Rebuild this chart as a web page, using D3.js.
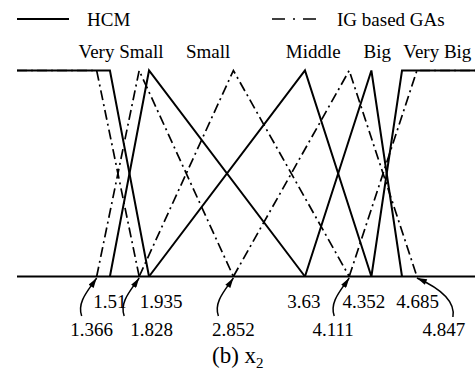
<!DOCTYPE html>
<html>
<head>
<meta charset="utf-8">
<title>Membership functions x2</title>
<script src="https://cdn.jsdelivr.net/npm/d3@7"></script>
<style>
	body { margin: 0; background: #fff; }
	text { font-family: 'Liberation Serif', 'DejaVu Serif', serif; fill: #000; }
	.hcm { fill: none; stroke: #000; stroke-width: 2; }
	.ig  { fill: none; stroke: #000; stroke-width: 1.7; stroke-dasharray: 10,4,2,4; }
</style>
</head>
<body>
<div id="chart"></div>
<script>
var width = 475, height = 378;

// data
var categories = ["Very Small", "Small", "Middle", "Big", "Very Big"];
var hcmCenters = [1.51, 1.935, 3.63, 4.352, 4.685];
var igCenters  = [1.366, 1.828, 2.852, 4.111, 4.847];
var seriesNames = ["HCM", "IG based GAs"];
var xRange = [0.5, 5.5];

// layout (where category names sit, in x units) and label offsets in px
var catLabelAt = [1.631, 2.578, 3.72, 4.416, 5.069];
var topDx = [0, 12, -1, -7.5, 15.5];   // hcm value labels
var botDx = [-5, 12.5, 0, -16, 27];    // ig value labels
var serif = "'Liberation Serif', 'DejaVu Serif', serif";

var x = d3.scaleLinear().domain(xRange).range([17, 477]);
var y = d3.scaleLinear().domain([0, 1]).range([276.5, 70.5]);

var svg = d3.select("#chart").append("svg")
	.attr("width", width).attr("height", height)
	.attr("font-family", serif);

// triangle / shoulder shapes from the centres
function shapes(c) {
	var out = [];
	for (var i = 0; i < c.length; i++) {
		if (i == 0) out.push([[xRange[0], 1], [c[0], 1], [c[1], 0]]);
		else if (i == c.length - 1) out.push([[c[i - 1], 0], [c[i], 1], [xRange[1], 1]]);
		else out.push([[c[i - 1], 0], [c[i], 1], [c[i + 1], 0]]);
	}
	return out;
}

var line = d3.line().x(function(d) { return x(d[0]); }).y(function(d) { return y(d[1]); });

// axis line
svg.append("line")
	.attr("x1", x(xRange[0])).attr("x2", width)
	.attr("y1", y(0)).attr("y2", y(0))
	.attr("stroke", "#000").attr("stroke-width", 2);

svg.selectAll("path.ig").data(shapes(igCenters)).enter()
	.append("path").attr("class", "ig").attr("d", line);
svg.selectAll("path.hcm").data(shapes(hcmCenters)).enter()
	.append("path").attr("class", "hcm").attr("d", line);

// legend
svg.append("line").attr("class", "hcm").attr("x1", 17).attr("x2", 69).attr("y1", 19).attr("y2", 19);
svg.append("text").attr("x", 87).attr("y", 26).attr("font-size", 19).text(seriesNames[0]);
svg.append("line").attr("class", "ig").attr("x1", 272).attr("x2", 318).attr("y1", 19).attr("y2", 19)
	.style("stroke-dasharray", "13,8,2,8");
svg.append("text").attr("x", 337).attr("y", 26).attr("font-size", 19).text(seriesNames[1]);

// category names
svg.selectAll("text.cat").data(categories).enter()
	.append("text").attr("class", "cat")
	.attr("x", function(d, i) { return x(catLabelAt[i]); })
	.attr("y", 58).attr("font-size", 19).attr("text-anchor", "middle")
	.text(function(d) { return d; });

// values
svg.selectAll("text.hv").data(hcmCenters).enter()
	.append("text").attr("class", "hv")
	.attr("x", function(d, i) { return x(d) + topDx[i]; })
	.attr("y", 308).attr("font-size", 19).attr("text-anchor", "middle")
	.text(function(d) { return d; });

svg.selectAll("text.iv").data(igCenters).enter()
	.append("text").attr("class", "iv")
	.attr("x", function(d, i) { return x(d) + botDx[i]; })
	.attr("y", 335.5).attr("font-size", 19).attr("text-anchor", "middle")
	.text(function(d) { return d; });

// arrows pointing at the IG values
svg.append("defs").append("marker")
	.attr("id", "head").attr("markerUnits", "userSpaceOnUse")
	.attr("viewBox", "0 0 10 6").attr("refX", 10).attr("refY", 3)
	.attr("markerWidth", 11).attr("markerHeight", 6).attr("orient", "auto")
	.append("path").attr("d", "M0,0L10,3L0,6Z").attr("fill", "#000");

svg.selectAll("path.arrow").data(igCenters).enter()
	.append("path").attr("class", "arrow")
	.attr("fill", "none").attr("stroke", "#000").attr("stroke-width", 1.5)
	.attr("marker-end", "url(#head)")
	.attr("d", function(d, i) {
		var tx = x(d), ty = y(0) + 1.5;
		var p = d3.path();
		if (i == igCenters.length - 1) {
			var sx = tx + 36, sy = ty + 39;
			p.moveTo(sx, sy);
			p.bezierCurveTo(sx + 3, sy - 18, tx + 18, ty + 8, tx, ty);
		} else {
			var sx = tx - 15, sy = ty + 38;
			p.moveTo(sx, sy);
			p.bezierCurveTo(sx - 5, sy - 14, tx - 8, ty + 12, tx, ty);
		}
		return p.toString();
	});

// caption
var cap = svg.append("text").attr("x", 212).attr("y", 363).attr("font-size", 23);
cap.append("tspan").text("(b) x");
cap.append("tspan").attr("font-size", 15).attr("dy", 5).text("2");
</script>
</body>
</html>
